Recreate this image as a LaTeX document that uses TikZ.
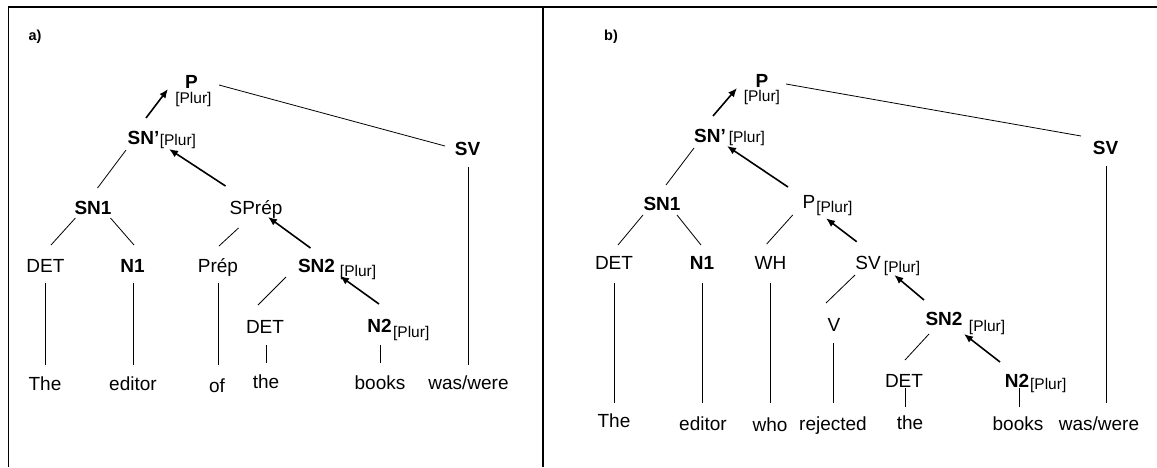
\documentclass[tikz,border=0pt]{standalone}
\usepackage{fontspec}
\setmainfont{Liberation Sans}
\usetikzlibrary{arrows.meta,calc}
\newcommand\plur[2]{\makebox[0pt][l]{\hspace{#1}\smash{\raisebox{#2}{\fontsize{15.5}{17}\selectfont\mdseries [Plur]}}}}
\tikzset{
  lab/.style={font=\fontsize{19}{22}\selectfont, inner sep=0pt, anchor=base},
  blab/.style={font=\fontsize{19}{22}\selectfont\bfseries, inner sep=0pt, anchor=base},
  panel/.style={font=\fontsize{14.5}{16}\selectfont\bfseries, inner sep=0pt, anchor=base},
  tree/.style={line width=0.8pt},
  up/.style={line width=1.6pt, -{Latex[length=9pt,width=7.5pt]}},
  frame/.style={line width=1.2pt},
}
\begin{document}
\begin{tikzpicture}[x=1pt,y=-1pt]
\useasboundingbox (0,0) rectangle (1157,467);
% frame
\draw[frame] (8,7) -- (1157,7);
\draw[frame] (8.5,7) -- (8.5,467);
\draw[frame] (543,7) -- (543,467);

% ---------- panel a ----------
\node[panel] (la) at (35,40) {a)};
\node[blab] (lP) at (191.5,88) {P\plur{-22.5pt}{-15pt}};
\node[blab] (lSNp) at (143.5,144) {SN’\plur{0.5pt}{-1pt}};
\node[blab] (lSV) at (467.5,155) {SV};
\node[blab] (lSN1) at (93,214) {SN1};
\node[lab] (lSPrep) at (256,214) {SPrép};
\node[lab] (lDET) at (45.5,272) {DET};
\node[blab] (lN1) at (132.5,272) {N1};
\node[lab] (lPrep) at (218,272) {Prép};
\node[blab] (lSN2) at (316.5,272) {SN2\plur{5pt}{-4pt}};
\node[lab] (lDET2) at (265,333) {DET};
\node[blab] (lN2) at (379.5,332) {N2\plur{1.5pt}{-5pt}};
\node[lab] (lThe) at (45,390) {The};
\node[lab] (lEditor) at (133,390) {editor};
\node[lab] (lOf) at (217,392) {of};
\node[lab] (lThe2) at (266,388) {the};
\node[lab] (lBooks) at (380,389) {books};
\node[lab] (lWas) at (468.5,389) {was/were};

\draw[tree] ($(lP.base)+(27.5,-3)$) -- ($(lSV.base)+(-22.5,-9)$);
\draw[tree] ($(lSV.base)+(1,12)$) -- ($(lWas.base)+(0,-24)$);
\draw[up] ($(lSNp.base)+(2.5,-26)$) -- ($(lP.base)+(-23.5,1)$);
\draw[tree] ($(lSNp.base)+(-17.5,6)$) -- ($(lSN1.base)+(4.5,-26)$);
\draw[up] ($(lSPrep.base)+(-30.5,-28)$) -- ($(lSNp.base)+(25.5,5)$);
\draw[tree] ($(lSN1.base)+(-17.6,4)$) -- ($(lDET.base)+(5.5,-27)$);
\draw[tree] ($(lSN1.base)+(17.5,4)$) -- ($(lN1.base)+(1.5,-27)$);
\draw[tree] ($(lSPrep.base)+(-17.5,14)$) -- ($(lPrep.base)+(1,-26)$);
\draw[up] ($(lSN2.base)+(-6,-24)$) -- ($(lSPrep.base)+(12,3)$);
\draw[tree] ($(lSN2.base)+(-30.5,5)$) -- ($(lDET2.base)+(-7,-28)$);
\draw[up] ($(lN2.base)+(-0.5,-28)$) -- ($(lSN2.base)+(23.5,4)$);
\draw[tree] ($(lDET2.base)+(1.5,12)$) -- ($(lThe2.base)+(0.5,-25)$);
\draw[tree] ($(lN2.base)+(1,13)$) -- ($(lBooks.base)+(0.5,-26)$);
\draw[tree] ($(lDET.base)+(0,11)$) -- ($(lThe.base)+(0.5,-25)$);
\draw[tree] ($(lN1.base)+(0.5,11)$) -- ($(lEditor.base)+(0,-25)$);
\draw[tree] ($(lPrep.base)+(0,11)$) -- ($(lOf.base)+(1,-27)$);

% ---------- panel b ----------
\node[panel] (rb) at (611,40) {b)};
\node[blab] (rP) at (762,87) {P\plur{-24.5pt}{-14pt}};
\node[blab] (rSNp) at (710,142) {SN’\plur{3pt}{0pt}};
\node[blab] (rSV) at (1105.5,154) {SV};
\node[blab] (rSN1) at (662,210) {SN1};
\node[lab] (rP2) at (809,208.5) {P\plur{1pt}{-3.5pt}};
\node[lab] (rDET) at (614,269.5) {DET};
\node[blab] (rN1) at (702,269.5) {N1};
\node[lab] (rWH) at (770.5,269.5) {WH};
\node[lab] (rSV2) at (868,269.5) {SV\plur{3.3pt}{-3pt}};
\node[lab] (rV) at (834,331) {V};
\node[blab] (rSN2) at (944,325) {SN2\plur{6.5pt}{-6pt}};
\node[lab] (rDET2) at (904,387) {DET};
\node[blab] (rN2) at (1017,387) {N2\plur{1pt}{-2pt}};
\node[lab] (rThe) at (614,427) {The};
\node[lab] (rEditor) at (703,430) {editor};
\node[lab] (rWho) at (770,431) {who};
\node[lab] (rRejected) at (833,430) {rejected};
\node[lab] (rThe2) at (910,429) {the};
\node[lab] (rBooks) at (1018,430) {books};
\node[lab] (rWas) at (1099,430) {was/were};

\draw[tree] ($(rP.base)+(24,-3)$) -- ($(rSV.base)+(-24.5,-18)$);
\draw[tree] ($(rSV.base)+(1,12)$) -- ($(rWas.base)+(7.5,-27)$);
\draw[up] ($(rSNp.base)+(3,-26)$) -- ($(rP.base)+(-25,1)$);
\draw[tree] ($(rSNp.base)+(-16,6)$) -- ($(rSN1.base)+(4,-25)$);
\draw[up] ($(rP2.base)+(-21,-21.5)$) -- ($(rSNp.base)+(17,4)$);
\draw[tree] ($(rSN1.base)+(-19,5)$) -- ($(rDET.base)+(4,-24.5)$);
\draw[tree] ($(rSN1.base)+(15,5)$) -- ($(rN1.base)+(-1,-24.5)$);
\draw[tree] ($(rP2.base)+(-16.3,6.5)$) -- ($(rWH.base)+(-3.8,-25.5)$);
\draw[up] ($(rSV2.base)+(-11.3,-27.8)$) -- ($(rP2.base)+(17,9.8)$);
\draw[tree] ($(rDET.base)+(0,13.5)$) -- ($(rThe.base)+(0,-24)$);
\draw[tree] ($(rN1.base)+(0,13.5)$) -- ($(rEditor.base)+(-1,-27)$);
\draw[tree] ($(rWH.base)+(0.2,13.5)$) -- ($(rWho.base)+(0.7,-28)$);
\draw[tree] ($(rSV2.base)+(-13,5.5)$) -- ($(rV.base)+(-8,-28)$);
\draw[up] ($(rSN2.base)+(-20,-25)$) -- ($(rSV2.base)+(26.3,5.5)$);
\draw[tree] ($(rV.base)+(-1,12)$) -- ($(rRejected.base)+(0,-27)$);
\draw[tree] ($(rSN2.base)+(-15,9)$) -- ($(rDET2.base)+(1,-27)$);
\draw[up] ($(rN2.base)+(-17,-25)$) -- ($(rSN2.base)+(20,9)$);
\draw[tree] ($(rDET2.base)+(1,1)$) -- ($(rThe2.base)+(-5,-22)$);
\draw[tree] ($(rN2.base)+(2,1)$) -- ($(rBooks.base)+(1,-23)$);
\end{tikzpicture}
\end{document}
